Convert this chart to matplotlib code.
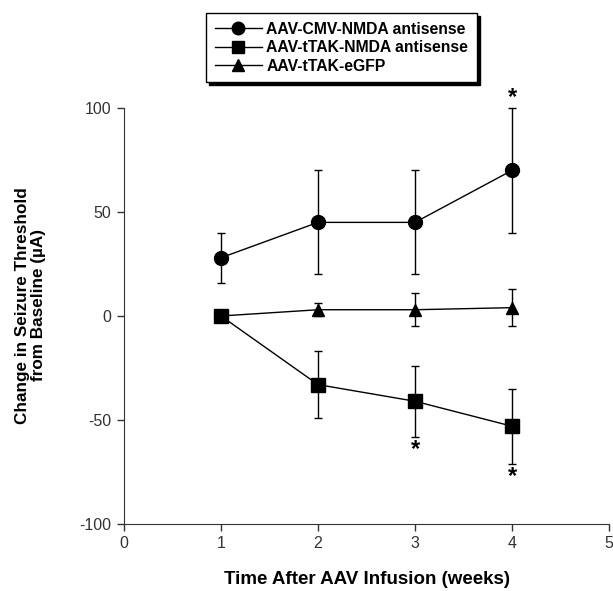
import matplotlib
matplotlib.use("Agg")
import matplotlib.pyplot as plt
from matplotlib.lines import Line2D

plt.rcParams['font.family'] = ['Liberation Sans', 'DejaVu Sans']
plt.rcParams['axes.unicode_minus'] = False

weeks_cmv = [1, 2, 3, 4]
cmv_mean = [28, 45, 45, 70]
cmv_err = [12, 25, 25, 30]

weeks_ttak = [1, 2, 3, 4]
ttak_mean = [0, -33, -41, -53]
ttak_err = [0, 16, 17, 18]

weeks_gfp = [1, 2, 3, 4]
gfp_mean = [0, 3, 3, 4]
gfp_err = [0, 3, 8, 9]

labels = ['AAV-CMV-NMDA antisense', 'AAV-tTAK-NMDA antisense', 'AAV-tTAK-eGFP']

# significance stars (x, y)
star_x = [4, 3, 4]
star_y = [105, -64, -77]

fig = plt.figure(figsize=(6.13, 5.91), dpi=100)
ax = fig.add_axes([0.2023, 0.1134, 0.7912, 0.7039])

common = dict(color='black', lw=1, elinewidth=1, capsize=3, capthick=1,
              clip_on=False, zorder=3)
ax.errorbar(weeks_cmv, cmv_mean, yerr=cmv_err, fmt='-o', markersize=10, **common)
ax.errorbar(weeks_ttak, ttak_mean, yerr=ttak_err, fmt='-s', markersize=10, **common)
# eGFP line starts at the shared 0 point of week 1 (marker hidden under the square)
ax.errorbar(weeks_gfp, gfp_mean, yerr=gfp_err, fmt='-^', markersize=9,
            markevery=[1, 2, 3], **common)

for sx, sy in zip(star_x, star_y):
    ax.text(sx, sy, '*', ha='center', va='center', fontsize=17,
            fontweight='bold', clip_on=False)

ax.set_xlim(0, 5)
ax.set_ylim(-100, 100)
ax.set_xticks([0, 1, 2, 3, 4, 5])
ax.set_yticks([-100, -50, 0, 50, 100])
ax.spines['top'].set_visible(False)
ax.spines['right'].set_visible(False)
ax.tick_params(direction='out', length=5, width=1, labelsize=11.5,
               colors='#333333', pad=4)
for s in ('left', 'bottom'):
    ax.spines[s].set_color('#333333')

ax.set_xlabel('Time After AAV Infusion (weeks)', fontsize=13.5,
              fontweight='bold', labelpad=14)
ax.set_ylabel('Change in Seizure Threshold\nfrom Baseline (µA)', fontsize=12.3,
              fontweight='bold', linespacing=1.05)
ax.yaxis.set_label_coords(-0.161, 0.526)

handles = [Line2D([], [], color='black', lw=1, marker=m, markersize=9)
           for m in ('o', 's', '^')]
leg = fig.legend(handles, labels, loc='upper center', bbox_to_anchor=(0.557, 0.978),
                 borderaxespad=0, fancybox=False,
                 shadow={'color': 'black', 'alpha': 1},
                 edgecolor='black', framealpha=1, handlelength=3,
                 labelspacing=0.22, borderpad=0.55, handletextpad=0.3,
                 prop={'weight': 'bold', 'size': 11.3})
leg.get_frame().set_linewidth(1)

fig.savefig('out.png', dpi=100)
